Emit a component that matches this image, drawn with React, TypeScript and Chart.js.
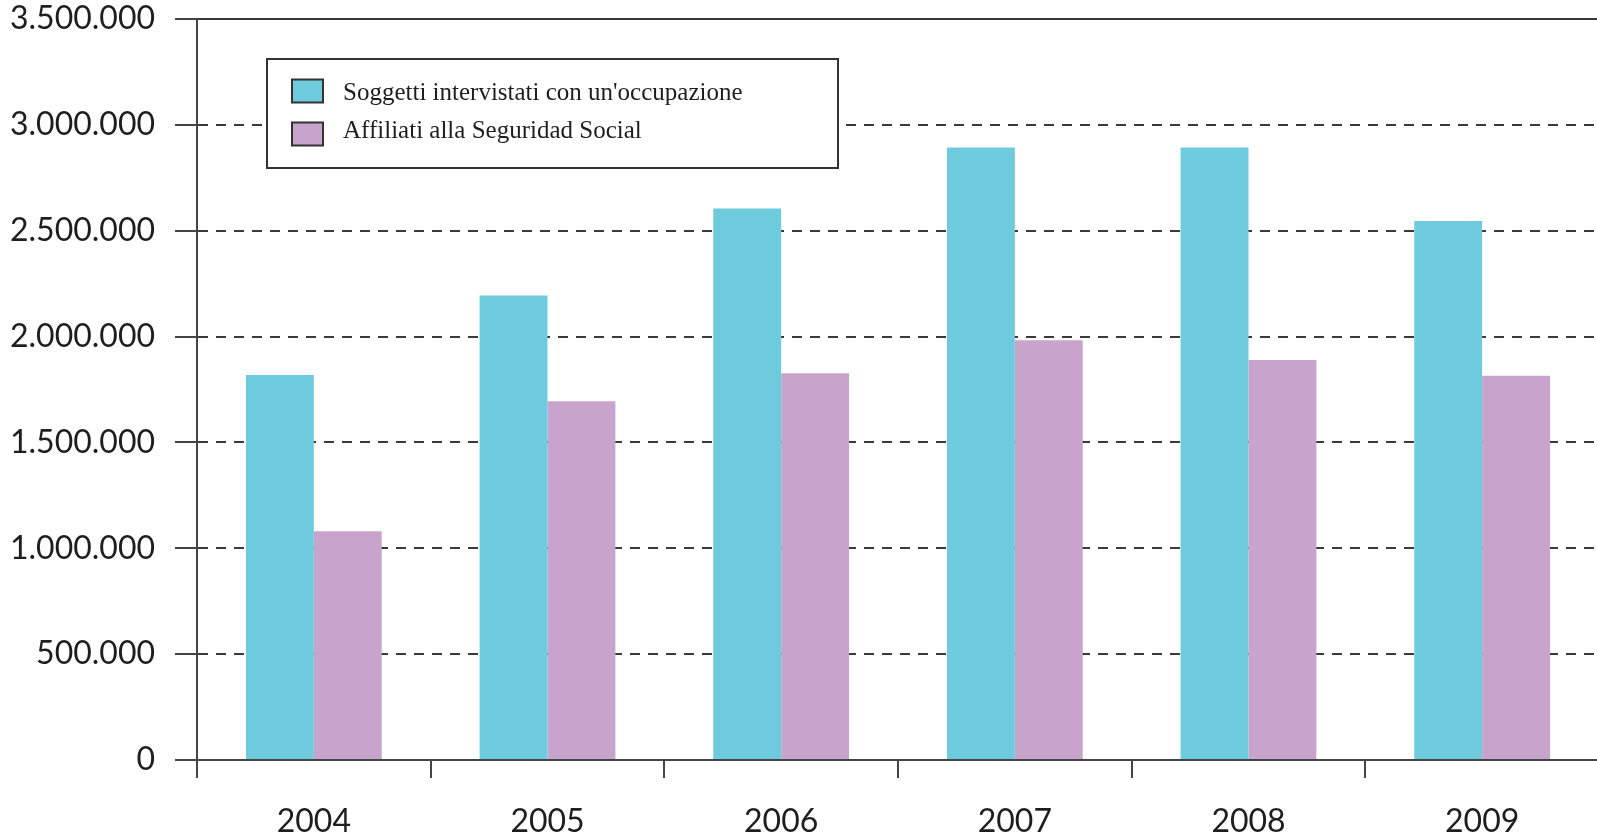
import React, { useEffect, useRef } from "react";
import { Chart, registerables } from "chart.js";

Chart.register(...registerables);

const years = ["2004", "2005", "2006", "2007", "2008", "2009"];
const occupati = [1819000, 2194000, 2605000, 2893000, 2893000, 2546000];
const affiliati = [1080000, 1695000, 1827000, 1983000, 1889000, 1815000];
const seriesLabels = [
  "Soggetti intervistati con un'occupazione",
  "Affiliati alla Seguridad Social",
];
const yMin = 0;
const yMax = 3500000;
const yStep = 500000;

const CYAN = "#6dcbdd";
const PURPLE = "#c8a3cb";
const AXIS = "#444444";
const GRID = "#3a3a3a";
const TEXT = "#1e1e1e";

const fmt = (v: number) => String(v).replace(/\B(?=(\d{3})+(?!\d))/g, ".");

const boxLegend = {
  id: "boxLegend",
  afterDatasetsDraw(chart: any) {
    const { ctx, chartArea } = chart;
    const x = chartArea.left + 70;
    const y = chartArea.top + 40;
    const w = 571;
    const h = 109;
    ctx.save();
    ctx.fillStyle = "#ffffff";
    ctx.fillRect(x, y, w, h);
    ctx.lineWidth = 2;
    ctx.strokeStyle = "#333333";
    ctx.strokeRect(x, y, w, h);
    const swatchRows = [32, 75];
    const textRows = [40.5, 79];
    chart.data.datasets.forEach((ds: any, i: number) => {
      const cy = y + swatchRows[i];
      ctx.fillStyle = ds.backgroundColor;
      ctx.fillRect(x + 25, cy - 11.5, 31, 23);
      ctx.lineWidth = 2;
      ctx.strokeStyle = "#333333";
      ctx.strokeRect(x + 25, cy - 11.5, 31, 23);
      ctx.fillStyle = TEXT;
      ctx.font = '25px "Liberation Serif"';
      ctx.textBaseline = "alphabetic";
      ctx.textAlign = "left";
      ctx.fillText(ds.label, x + 76, y + textRows[i]);
    });
    ctx.restore();
  },
};

export default function App() {
  const ref = useRef<HTMLCanvasElement | null>(null);
  useEffect(() => {
    if (!ref.current) return;
    const chart = new Chart(ref.current, {
      type: "bar",
      data: {
        labels: years,
        datasets: [
          {
            label: seriesLabels[0],
            data: occupati,
            backgroundColor: CYAN,
            borderWidth: 0,
            categoryPercentage: 0.581,
            barPercentage: 1,
          },
          {
            label: seriesLabels[1],
            data: affiliati,
            backgroundColor: PURPLE,
            borderWidth: 0,
            categoryPercentage: 0.581,
            barPercentage: 1,
          },
        ],
      },
      options: {
        responsive: false,
        animation: false,
        devicePixelRatio: 1,
        layout: { padding: { top: 19, right: 11, left: 0, bottom: 0 } },
        plugins: {
          legend: { display: false },
          tooltip: { enabled: false },
          title: { display: false },
        },
        scales: {
          x: {
            type: "category",
            offset: true,
            grid: {
              offset: true,
              drawOnChartArea: false,
              drawTicks: true,
              tickLength: 18,
              color: AXIS,
              lineWidth: 2,
            },
            border: { display: true, color: AXIS, width: 2 },
            ticks: {
              color: TEXT,
              font: { family: "Lato", size: 32 },
              padding: 24,
              maxRotation: 0,
            },
            afterFit: (s: any) => {
              s.height = 79;
              s.paddingLeft = 0;
              s.paddingRight = 0;
            },
          },
          y: {
            min: yMin,
            max: yMax,
            ticks: {
              stepSize: yStep,
              color: TEXT,
              font: { family: "Lato", size: 32 },
              padding: 20,
              callback: (v: any) => fmt(Number(v)),
            },
            grid: {
              color: GRID,
              lineWidth: 2,
              drawTicks: true,
              tickLength: 22,
              tickColor: AXIS,
              tickBorderDash: [],
            },
            border: {
              display: true,
              color: AXIS,
              width: 2,
              dash: (c: any) =>
                c.type === "tick" && c.tick && c.tick.value !== yMin && c.tick.value !== yMax
                  ? [10, 8]
                  : [],
            },
            afterFit: (s: any) => {
              s.width = 197;
              s.paddingTop = 0;
              s.paddingBottom = 0;
            },
          },
        },
      },
      plugins: [boxLegend],
    });
    return () => chart.destroy();
  }, []);
  return (
    <div
      style={{
        position: "fixed",
        left: 0,
        top: 0,
        width: 1597,
        height: 839,
        overflow: "hidden",
        background: "#ffffff",
      }}
    >
      <canvas ref={ref} width={1610} height={839} style={{ display: "block" }} />
    </div>
  );
}
